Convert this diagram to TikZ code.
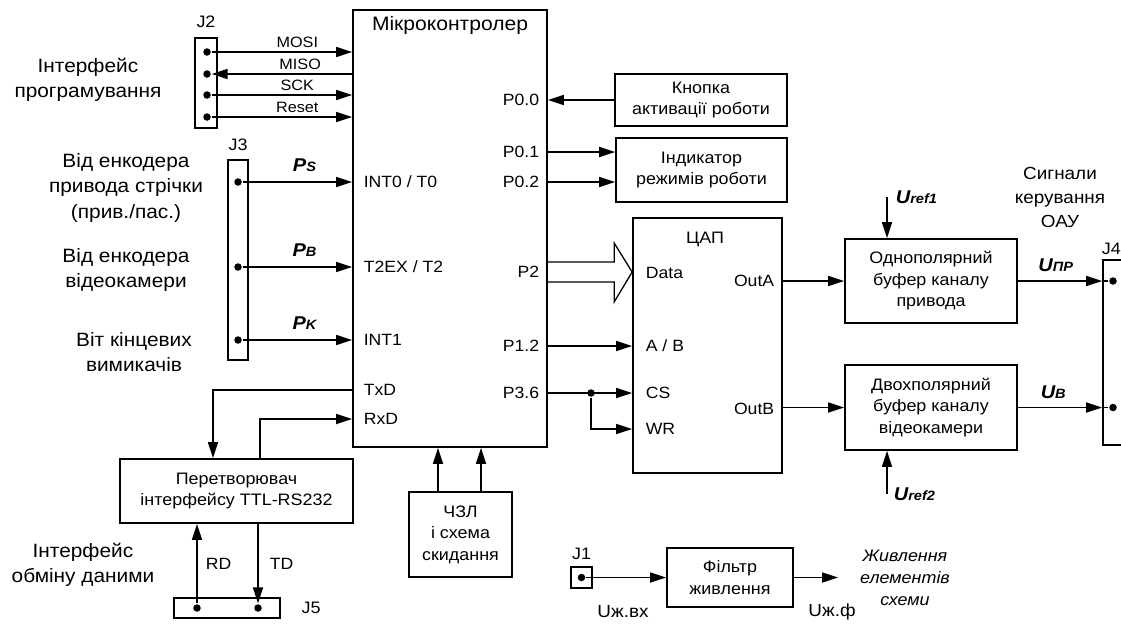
\documentclass[tikz,border=0pt]{standalone}
\usepackage{fontspec}
\setmainfont[FakeStretch=1.08]{Liberation Sans}
\usepackage{tikz}
\usetikzlibrary{arrows.meta, positioning}

\newcommand{\sig}[2]{{\bfseries\itshape\fontsize{18.5}{18.5}\selectfont #1{\fontsize{13.5}{13.5}\selectfont #2}}}

\begin{document}
\begin{tikzpicture}[
    x=1pt, y=-1pt,
    line width=1.7pt,
    >={Triangle[length=16pt, width=10pt]},
    every node/.style={font=\fontsize{16.6}{21.5}\selectfont, inner sep=0pt},
    block/.style={rectangle, draw, align=center},
    desc/.style={align=center, font=\fontsize{19.3}{25.5}\selectfont},
    pinl/.style={anchor=west, font=\fontsize{16.3}{18}\selectfont},
    pinr/.style={anchor=east, font=\fontsize{16.3}{18}\selectfont},
    wire/.style={font=\fontsize{15}{16}\selectfont},
    dot/.style={circle, fill, minimum size=7.5pt},
    conn/.style={rectangle, draw}
]
\useasboundingbox (0,0) rectangle (1121,624);

% blocks
\node[block, minimum width=194, minimum height=437] (mcu) at (450,228.5) {};
\node[font=\fontsize{19.5}{20}\selectfont] (mcutitle) at (450,25) {Мікроконтролер};
\node[block, minimum width=172, minimum height=52] (btn) at (701,100) {Кнопка\\активації роботи};
\node[block, minimum width=171, minimum height=64] (ind) at (701.5,170) {Індикатор\\режимів роботи};
\node[block, minimum width=149, minimum height=255] (dac) at (707.5,345.5) {};
\node (dactitle) at (705,239) {ЦАП};
\node[block, minimum width=172, minimum height=84] (buf1) at (931,281) {Однополярний\\буфер каналу\\привода};
\node[block, minimum width=172, minimum height=85] (buf2) at (931,407.5) {Двохполярний\\буфер каналу\\відеокамери};
\node[block, minimum width=233, minimum height=64] (conv) at (236.5,491) {Перетворювач\\інтерфейсу TTL-RS232};
\node[block, minimum width=103, minimum height=85] (clk) at (460.5,534.5) {ЧЗЛ\\і схема\\скидання};
\node[block, minimum width=126, minimum height=59] (flt) at (730,577.5) {Фільтр\\живлення};

% connectors
\node[conn, minimum width=22, minimum height=90] (j2) at (206,83) {};
\node[above=9pt of j2] (j2lbl) {J2};
\node[conn, minimum width=20, minimum height=200] (j3) at (238,260) {};
\node[above=8pt of j3] (j3lbl) {J3};
\node[conn, minimum width=106, minimum height=20] (j5) at (227,608) {};
\node[right=20pt of j5] (j5lbl) {J5};
\node[conn, minimum width=21, minimum height=21] (j1) at (581.5,577.5) {};
\node[above=6pt of j1] (j1lbl) {J1};
\node[conn, minimum width=32, minimum height=185] (j4) at (1119,352.5) {};
\node[anchor=west] (j4lbl) at (1101,249) {J4};

\foreach \y [count=\i] in {52,74,95,117}
    \node[dot] (a\i) at (207,\y) {};
\foreach \y [count=\i] in {182,267,340}
    \node[dot] (b\i) at (238,\y) {};
\node[dot] (rdp) at (197,608) {};
\node[dot] (tdp) at (258,608) {};
\node[dot] (pin1) at (j1) {};
\node[dot] (c1) at (1113,281) {};
\node[dot] (c2) at (1113,407.5) {};

% pin names
\node[pinl] (int0) at (363,182) {INT0 / T0};
\node[pinl] (t2ex) at (363,267) {T2EX / T2};
\node[pinl] (int1) at (363,340) {INT1};
\node[pinl] (txd) at (363,390) {TxD};
\node[pinl] (rxd) at (363,419) {RxD};
\node[pinr] (p00) at (540,100) {P0.0};
\node[pinr] (p01) at (540,152) {P0.1};
\node[pinr] (p02) at (540,182) {P0.2};
\node[pinr] (p2) at (540,272) {P2};
\node[pinr] (p12) at (540,346) {P1.2};
\node[pinr] (p36) at (540,393) {P3.6};
\node[pinl] (ddata) at (645,273) {Data};
\node[pinl] (dab) at (645,346) {A / B};
\node[pinl] (dcs) at (645,393) {CS};
\node[pinl] (dwr) at (645,429) {WR};
\node[pinr] (outa) at (775,281) {OutA};
\node[pinr] (outb) at (775,409) {OutB};

% texts
\node[desc] (prog) at (88,80) {Інтерфейс\\програмування};
\node[desc] (enc1) at (126,188) {Від енкодера\\привода стрічки\\(прив./пас.)};
\node[desc] (enc2) at (126,270) {Від енкодера\\відеокамери};
\node[desc] (lim) at (134,352) {Віт кінцевих\\вимикачів};
\node[desc] (xch) at (83,565) {Інтерфейс\\обміну даними};
\node[desc, font=\fontsize{17.5}{24}\selectfont] (sigs) at (1060,197) {Сигнали\\керування\\ОАУ};
\node[align=center, font=\itshape\fontsize{16.6}{22}\selectfont] (pwr) at (905,578) {Живлення\\елементів\\схеми};
\node[font=\fontsize{17.5}{20}\selectfont] (uin) at (623,612) {Uж.вх};
\node[font=\fontsize{17.5}{20}\selectfont] (uf) at (832,612) {Uж.ф};

% programming port
\foreach \i/\n in {1/MOSI,3/SCK,4/Reset}
    \draw[->] (a\i) -- node[wire, pos=0.61, above=3.5pt] (l\i) {\n} (mcu.west |- a\i);
\draw[->] (mcu.west |- a2) -- node[wire, pos=0.37, above=3.5pt] (l2) {MISO} (a2);

% encoders
\draw[->] (b1) -- node[pos=0.565, above=10pt] (ps) {\sig{P}{S}} (mcu.west |- b1);
\draw[->] (b2) -- node[pos=0.565, above=10pt] (pb) {\sig{P}{B}} (mcu.west |- b2);
\draw[->] (b3) -- node[pos=0.565, above=10pt] (pk) {\sig{P}{K}} (mcu.west |- b3);

% serial port
\coordinate (cvin) at ([xshift=-23.5pt]conv.north);
\coordinate (cvout) at ([xshift=23.5pt]conv.north);
\draw[->] (mcu.west |- txd) -| (cvin);
\draw[->] (cvout) |- (mcu.west |- rxd);
\draw[->] (rdp) -- node[pos=0.5, right=8pt, font=\fontsize{16.3}{18}\selectfont] (rdl) {RD} (rdp |- conv.south);
\draw[->] (conv.south -| tdp) -- node[pos=0.5, right=11pt, font=\fontsize{16.3}{18}\selectfont] (tdl) {TD} (tdp);

% clock and reset
\coordinate (cz1) at ([xshift=-22.5pt]clk.north);
\coordinate (cz2) at ([xshift=20.5pt]clk.north);
\draw[->] (cz1) -- (cz1 |- mcu.south);
\draw[->] (cz2) -- (cz2 |- mcu.south);

% port 0
\draw[->] (btn) -- (mcu.east |- btn);
\draw[->] (mcu.east |- p01) -- (ind.west |- p01);
\draw[->] (mcu.east |- p02) -- (ind.west |- p02);

% data bus
\coordinate (p2s) at (mcu.east |- p2);
\coordinate (p2e) at (dac.west |- p2);
\draw[line width=1.3pt] ([yshift=10pt]p2s) -- ([xshift=-18pt,yshift=10pt]p2e)
    -- ([xshift=-18pt,yshift=29pt]p2e) -- (p2e) -- ([xshift=-18pt,yshift=-30pt]p2e)
    -- ([xshift=-18pt,yshift=-10pt]p2e) -- ([yshift=-10pt]p2s);

\draw[->] (mcu.east |- p12) -- (dac.west |- p12);
\draw[->] (mcu.east |- p36) -- (dac.west |- p36);
\node[dot] (jn) at (591,393) {};
\draw[->] (jn) |- (dac.west |- dwr);

% outputs
\draw[->] (dac.east |- buf1) -- (buf1);
\draw[->] (dac.east |- buf2) -- (buf2);
\coordinate (r1) at (887,197);
\draw[->] (r1) -- (r1 |- buf1.north);
\node[right=8pt of r1] (ur1) {\sig{U}{ref1}};
\coordinate (r2) at (887,494);
\draw[->] (r2) -- (r2 |- buf2.south);
\node[right=6pt of r2] (ur2) {\sig{U}{ref2}};

\draw[->] (buf1) -- node[pos=0.45, above=8pt] (upr) {\sig{U}{ПР}} (buf1 -| j4.west);
\draw (buf1 -| j4.west) -- (c1);
\draw[->] (buf2) -- node[pos=0.42, above=8pt] (ub) {\sig{U}{В}} (buf2 -| j4.west);
\draw (buf2 -| j4.west) -- (c2);

% power
\draw[->] (pin1) -- (flt);
\coordinate (fo) at (838,577.5);
\draw[->] (flt) -- (fo);

\end{tikzpicture}
\end{document}
